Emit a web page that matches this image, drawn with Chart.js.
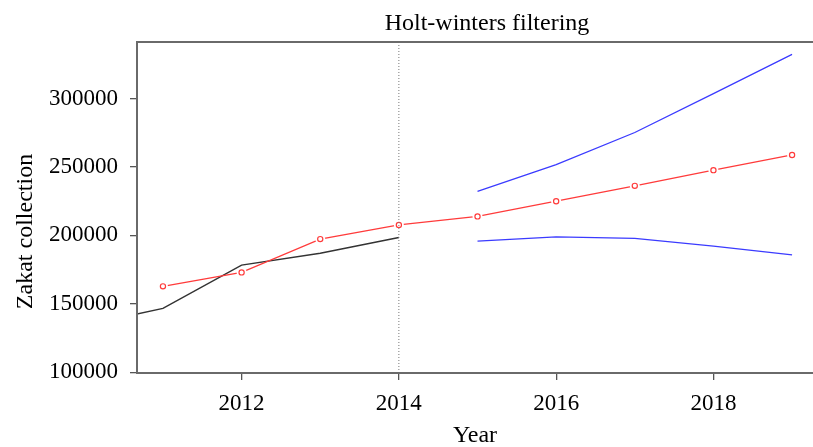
<!DOCTYPE html>
<html>
<head>
<meta charset="utf-8">
<script src="https://cdn.jsdelivr.net/npm/chart.js@4/dist/chart.umd.min.js"></script>
<style>
html,body{margin:0;padding:0;background:#fff;overflow:hidden;}
#wrap{width:813px;height:447px;}
</style>
</head>
<body>
<div id="wrap"><canvas id="c" width="813" height="447"></canvas></div>
<script>
// ---- data ----
const obsYears = [2010, 2011, 2012, 2013, 2014];
const observed = [134300, 146700, 178300, 186900, 198500];
const fitYears = [2011, 2012, 2013, 2014, 2015, 2016, 2017, 2018, 2019];
const fitted = [162800, 173000, 197300, 207700, 213900, 225000, 236200, 247700, 258800];
const fcYears = [2015, 2016, 2017, 2018, 2019];
const upper = [232100, 251800, 275200, 303600, 332300];
const lower = [195800, 199000, 197800, 192200, 185800];
const splitYear = 2014;
const xTickValues = [2012, 2014, 2016, 2018];
const yTickValues = [100000, 150000, 200000, 250000, 300000];
const titleText = 'Holt-winters filtering';
const xTitle = 'Year';
const yTitle = 'Zakat collection';

const X_MIN = 2010.67, X_MAX = 2019.2, Y_MIN = 99500, Y_MAX = 341300;
const FONT = "'Liberation Serif', 'Times New Roman', serif";

const pts = (xs, ys) => xs.map((x, i) => ({x: x, y: ys[i]}));

const framePlugin = {
  id: 'frame',
  afterDraw(chart) {
    const ctx = chart.ctx, a = chart.chartArea;
    ctx.save();
    ctx.strokeStyle = '#6a6a6a';
    ctx.lineWidth = 2;
    ctx.beginPath();
    ctx.moveTo(chart.width + 2, a.top);
    ctx.lineTo(a.left, a.top);
    ctx.lineTo(a.left, a.bottom);
    ctx.lineTo(chart.width + 2, a.bottom);
    ctx.stroke();
    ctx.fillStyle = '#000';
    ctx.font = "24px " + FONT;
    ctx.textAlign = 'center';
    ctx.textBaseline = 'alphabetic';
    ctx.fillText(titleText, 487, 29.5);
    ctx.fillText(xTitle, 475, 441.5);
    ctx.translate(32, 231.5);
    ctx.rotate(-Math.PI / 2);
    ctx.fillText(yTitle, 0, 0);
    ctx.restore();
  }
};

new Chart(document.getElementById('c'), {
  type: 'line',
  data: {
    datasets: [
      { data: [{x: splitYear, y: Y_MIN}, {x: splitYear, y: Y_MAX}], borderColor: '#777', borderWidth: 1, borderDash: [1, 2], pointRadius: 0 },
      { data: pts(fitYears, fitted), showLine: false, pointRadius: 2.6, pointBorderWidth: 1.2, pointBorderColor: '#ff3b3b', pointBackgroundColor: '#fff' },
      { data: pts(fitYears, fitted), showLine: false, pointRadius: 5, pointBorderWidth: 0, pointBorderColor: 'rgba(0,0,0,0)', pointBackgroundColor: '#fff' },
      { data: pts(fitYears, fitted), borderColor: '#ff3b3b', borderWidth: 1.3, pointRadius: 0 },
      { data: pts(obsYears, observed), borderColor: '#333', borderWidth: 1.5, pointRadius: 0 },
      { data: pts(fcYears, upper), borderColor: '#3b3bff', borderWidth: 1.3, pointRadius: 0 },
      { data: pts(fcYears, lower), borderColor: '#3b3bff', borderWidth: 1.3, pointRadius: 0 }
    ]
  },
  options: {
    responsive: false,
    animation: false,
    devicePixelRatio: 1,
    events: [],
    layout: { padding: { left: 0, right: 0, top: 42, bottom: 0 } },
    plugins: { legend: { display: false }, tooltip: { enabled: false }, title: { display: false } },
    elements: { line: { tension: 0, fill: false } },
    scales: {
      x: {
        type: 'linear', min: X_MIN, max: X_MAX,
        afterBuildTicks: s => { s.ticks = xTickValues.map(v => ({value: v})); },
        afterFit: s => { s.height = 74; },
        grid: { display: true, drawOnChartArea: false, drawTicks: true, tickLength: 7, color: '#555', lineWidth: 1.3 },
        border: { display: false },
        ticks: { callback: v => String(v), color: '#000', font: { family: FONT, size: 23 }, padding: 10, maxRotation: 0, autoSkip: false }
      },
      y: {
        type: 'linear', min: Y_MIN, max: Y_MAX,
        afterBuildTicks: s => { s.ticks = yTickValues.map(v => ({value: v})); },
        afterFit: s => { s.width = 137; },
        grid: { display: true, drawOnChartArea: false, drawTicks: true, tickLength: 7, color: '#555', lineWidth: 1.3 },
        border: { display: false },
        ticks: { callback: v => String(v), color: '#000', font: { family: FONT, size: 23 }, padding: 12, autoSkip: false }
      }
    }
  },
  plugins: [framePlugin]
});
</script>
</body>
</html>
